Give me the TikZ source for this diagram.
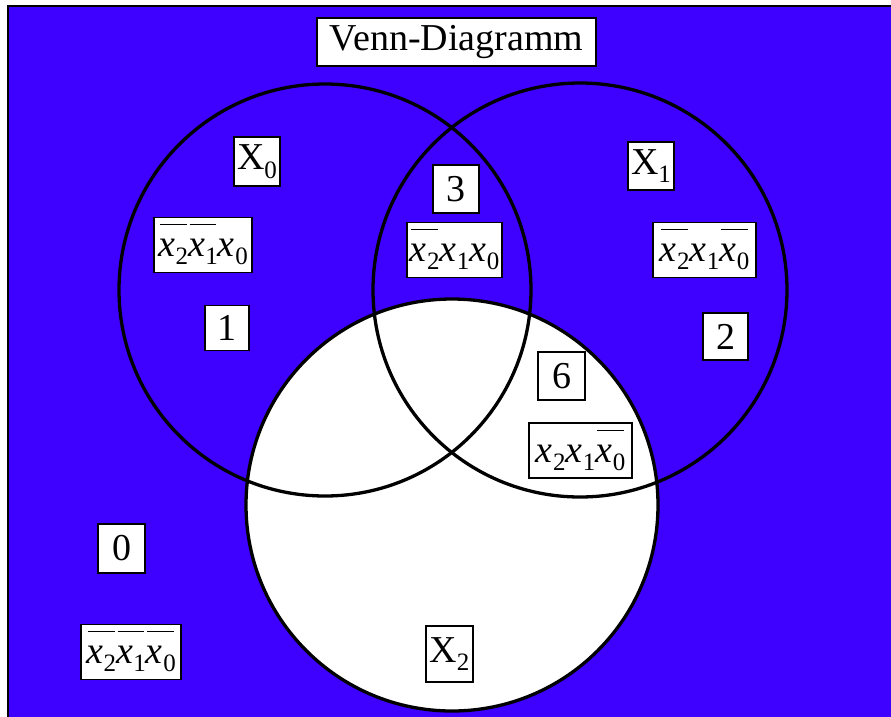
\documentclass[tikz,border=0pt]{standalone}
\usepackage{fontspec}
\setmainfont{Liberation Serif}
\definecolor{bgblue}{RGB}{62,0,255}
\newsavebox\tbox
\newcommand\sbs[1]{\raisebox{-0.22em}{\fontsize{25}{25}\selectfont #1}}
\newcommand\vx[1]{\textit{x}\kern0.5pt\sbs{#1}}
\newcommand\nvx[1]{\sbox\tbox{\vx{#1}}\makebox[0pt][l]{\kern1.5pt\raisebox{0.82em}{\rule{\dimexpr\wd\tbox-3pt\relax}{1.2pt}}}\usebox\tbox}
\tikzset{
  lab/.style={draw=black, fill=white, line width=1.8pt, inner sep=0pt, font=\fontsize{38}{42}\selectfont},
  term/.style={lab, text height=39pt, text depth=16pt},
  ring/.style={draw=black, line width=3.3pt}
}
\begin{document}
\begin{tikzpicture}[x=1pt,y=-1pt]
\useasboundingbox (0,0) rectangle (891,716);
\clip (0,0) rectangle (891,716);
\fill[white] (0,0) rectangle (891,716);
\draw[fill=bgblue, line width=2.5pt] (8,6) rectangle (905,730);
\fill[white] (452,505) circle (206);
\draw[ring] (325,290) circle (206);
\draw[ring] (580,290) circle (207);
\draw[ring] (452,505) circle (206);
\node[lab, minimum width=279pt, minimum height=48pt] (title) at (456.5,42) {Venn-Diagramm};
\node[lab, minimum width=46pt, minimum height=49pt] (x0) at (257,161.5) {X\sbs{0}};
\node[lab, minimum width=46pt, minimum height=48pt] (x1) at (651,166) {X\sbs{1}};
\node[lab, minimum width=47pt, minimum height=56pt] (x2) at (449.5,654) {X\sbs{2}};
\node[lab, minimum width=44pt, minimum height=45pt] (n1) at (227,328) {1};
\node[lab, minimum width=46pt, minimum height=48pt] (n3) at (456,189) {3};
\node[lab, minimum width=45pt, minimum height=47pt] (n2) at (725.5,336.5) {2};
\node[lab, minimum width=47pt, minimum height=48pt] (n6) at (561.5,376) {6};
\node[lab, minimum width=47pt, minimum height=49pt] (n0) at (121.5,548.5) {0};
\node[term, minimum width=98pt] (t1) at (203,245) {\nvx{2}\nvx{1}\vx{0}};
\node[term, minimum width=95pt] (t3) at (454.5,250) {\nvx{2}\vx{1}\vx{0}};
\node[term, minimum width=103pt] (t2) at (704.5,250) {\nvx{2}\vx{1}\nvx{0}};
\node[term, minimum width=103pt] (t6) at (580.5,450.5) {\vx{2}\vx{1}\nvx{0}};
\node[term, minimum width=100pt] (t0) at (131,652) {\nvx{2}\nvx{1}\nvx{0}};
\end{tikzpicture}
\end{document}
